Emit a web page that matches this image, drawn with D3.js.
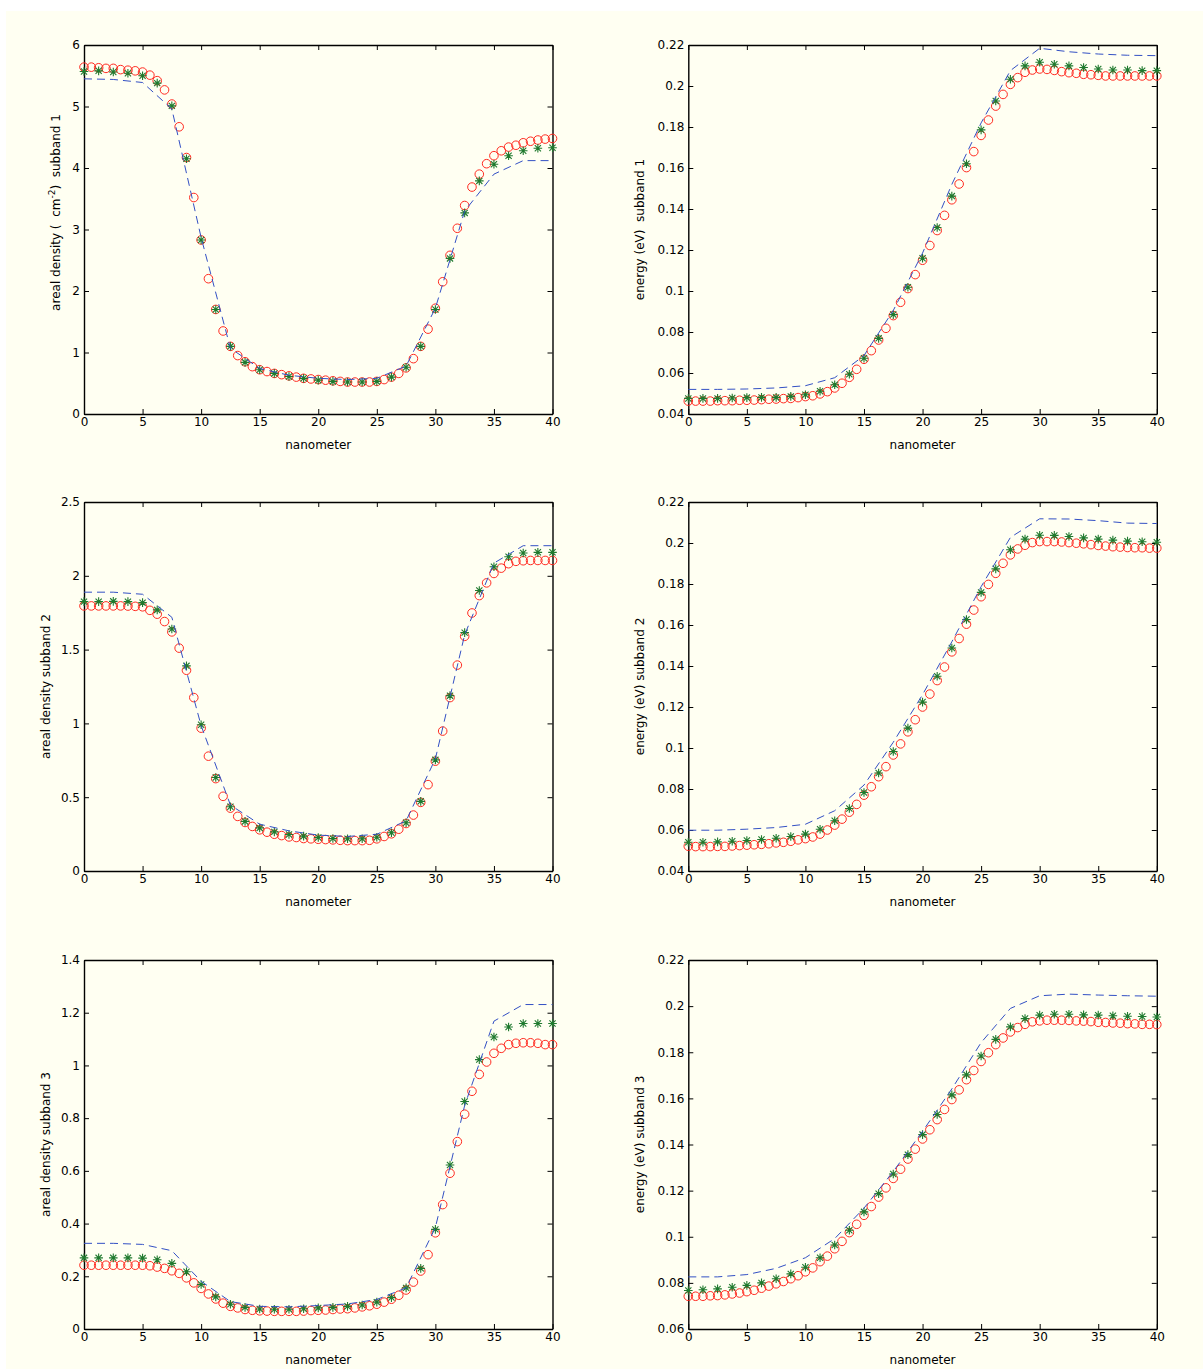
<!DOCTYPE html>
<html>
<head>
<meta charset="utf-8">
<script src="https://cdnjs.cloudflare.com/ajax/libs/d3/7.8.5/d3.min.js"></script>
<style>
  body { margin: 0; background: #fff; }
  svg text { font-family: "DejaVu Sans", sans-serif; font-size: 12px; fill: #000; }
</style>
</head>
<body>
<svg id="fig" width="1203" height="1369"></svg>
<script>
// sample positions (nanometer)
var xCirc = [0,0.625,1.25,1.875,2.5,3.125,3.75,4.375,5,5.625,6.25,6.875,7.5,8.125,8.75,9.375,
  10,10.625,11.25,11.875,12.5,13.125,13.75,14.375,15,15.625,16.25,16.875,17.5,18.125,18.75,19.375,
  20,20.625,21.25,21.875,22.5,23.125,23.75,24.375,25,25.625,26.25,26.875,27.5,28.125,28.75,29.375,
  30,30.625,31.25,31.875,32.5,33.125,33.75,34.375,35,35.625,36.25,36.875,37.5,38.125,38.75,39.375,40];
var xStar = [0,1.25,2.5,3.75,5,6.25,7.5,8.75,10,11.25,12.5,13.75,15,16.25,17.5,18.75,
  20,21.25,22.5,23.75,25,26.25,27.5,28.75,30,31.25,32.5,33.75,35,36.25,37.5,38.75,40];
var xDash = [0,2.5,5,7.5,10,12.5,15,17.5,20,22.5,25,27.5,30,32.5,35,37.5,40];

// subband 1
var dens1Circ = [5.64,5.64,5.63,5.62,5.62,5.60,5.59,5.58,5.56,5.51,5.42,5.27,5.04,4.67,4.17,3.52,
  2.83,2.20,1.70,1.35,1.10,0.95,0.85,0.77,0.72,0.69,0.66,0.64,0.62,0.60,0.58,0.57,
  0.56,0.55,0.54,0.53,0.52,0.52,0.52,0.52,0.53,0.56,0.60,0.66,0.75,0.90,1.10,1.38,
  1.72,2.15,2.58,3.02,3.39,3.69,3.90,4.07,4.20,4.28,4.34,4.37,4.41,4.435,4.455,4.47,4.48];
var dens1Star = [5.57,5.58,5.56,5.54,5.50,5.38,5.01,4.15,2.83,1.70,1.10,0.84,0.72,0.66,0.61,0.58,
  0.55,0.53,0.52,0.52,0.53,0.60,0.76,1.10,1.70,2.53,3.27,3.79,4.06,4.20,4.28,4.32,4.33];
var dens1Dash = [5.45,5.44,5.39,4.96,2.87,1.07,0.74,0.63,0.58,0.56,0.58,0.78,1.72,3.30,3.90,4.12,4.12];

var en1Circ = [0.0463,0.0463,0.0463,0.0463,0.0465,0.0465,0.0465,0.0467,0.0467,0.0468,0.0470,0.0472,0.0473,0.0475,0.0476,0.0480,
  0.0485,0.0489,0.0498,0.0509,0.0527,0.0550,0.0579,0.0618,0.0667,0.0709,0.0761,0.0818,0.0880,0.0945,0.1012,0.1080,
  0.1150,0.1222,0.1295,0.1369,0.1445,0.1522,0.1602,0.1680,0.1759,0.1834,0.1902,0.1959,0.2008,0.2041,0.2067,0.2078,
  0.2083,0.2081,0.2076,0.2070,0.2065,0.2062,0.2057,0.2055,0.2052,0.2049,0.2049,0.2049,0.2049,0.2049,0.2049,0.2049,0.2049];
var en1Star = [0.0476,0.0476,0.0476,0.0478,0.0480,0.0481,0.0481,0.0486,0.0494,0.0511,0.0543,0.0594,0.0672,0.0769,0.0885,0.1018,
  0.1160,0.1310,0.1463,0.1621,0.1786,0.1927,0.2033,0.2098,0.2116,0.2106,0.2098,0.2090,0.2083,0.2078,0.2078,0.2075,0.2075];
var en1Dash = [0.0520,0.0520,0.0522,0.0527,0.0538,0.0577,0.0685,0.0905,0.1185,0.1520,0.1820,0.2075,0.2184,0.2167,0.2156,0.2150,0.2148];

// subband 2
var dens2Circ = [1.796,1.796,1.796,1.796,1.796,1.796,1.795,1.793,1.790,1.766,1.740,1.690,1.620,1.510,1.360,1.175,
  0.968,0.778,0.626,0.506,0.426,0.370,0.329,0.302,0.279,0.263,0.249,0.240,0.231,0.227,0.220,0.218,
  0.215,0.213,0.211,0.208,0.206,0.206,0.206,0.208,0.218,0.234,0.252,0.283,0.322,0.379,0.465,0.585,
  0.744,0.948,1.175,1.395,1.590,1.748,1.866,1.952,2.016,2.052,2.082,2.098,2.102,2.104,2.104,2.104,2.104];
var dens2Star = [1.825,1.825,1.827,1.825,1.818,1.769,1.640,1.390,0.991,0.633,0.435,0.336,0.292,0.265,0.247,0.236,
  0.227,0.220,0.218,0.218,0.229,0.259,0.327,0.472,0.753,1.188,1.615,1.900,2.061,2.129,2.154,2.159,2.159];
var dens2Dash = [1.889,1.889,1.875,1.719,0.985,0.447,0.317,0.272,0.243,0.234,0.249,0.340,0.760,1.600,2.086,2.204,2.204];

var en2Circ = [0.0521,0.0519,0.0519,0.0519,0.0520,0.0520,0.0522,0.0524,0.0526,0.0528,0.0530,0.0533,0.0537,0.0540,0.0545,0.0552,
  0.0558,0.0566,0.0580,0.0600,0.0624,0.0653,0.0687,0.0725,0.0770,0.0811,0.0860,0.0909,0.0966,0.1020,0.1079,0.1138,
  0.1200,0.1263,0.1329,0.1395,0.1469,0.1534,0.1604,0.1673,0.1738,0.1798,0.1852,0.1901,0.1942,0.1971,0.1989,0.2002,
  0.2007,0.2007,0.2007,0.2005,0.2002,0.1999,0.1996,0.1992,0.1988,0.1985,0.1982,0.1980,0.1978,0.1977,0.1977,0.1975,0.1975];
var en2Star = [0.0540,0.0540,0.0542,0.0545,0.0549,0.0554,0.0560,0.0568,0.0580,0.0604,0.0645,0.0705,0.0783,0.0878,0.0983,0.1097,
  0.1224,0.1350,0.1488,0.1627,0.1759,0.1874,0.1967,0.2019,0.2038,0.2037,0.2032,0.2025,0.2019,0.2014,0.2009,0.2006,0.2004];
var en2Dash = [0.0599,0.0599,0.0604,0.0612,0.0628,0.0694,0.0819,0.1028,0.1260,0.1518,0.1787,0.2027,0.2118,0.2117,0.2109,0.2097,0.2095];

// subband 3
var dens3Circ = [0.242,0.242,0.242,0.242,0.242,0.242,0.242,0.242,0.242,0.240,0.235,0.230,0.221,0.211,0.194,0.175,
  0.154,0.133,0.114,0.098,0.086,0.080,0.074,0.071,0.069,0.068,0.067,0.067,0.067,0.067,0.068,0.070,
  0.071,0.072,0.074,0.076,0.077,0.080,0.084,0.088,0.094,0.102,0.113,0.128,0.148,0.178,0.220,0.282,
  0.365,0.472,0.591,0.711,0.815,0.902,0.966,1.013,1.046,1.065,1.079,1.084,1.086,1.086,1.084,1.079,1.079];
var dens3Star = [0.270,0.270,0.270,0.270,0.269,0.263,0.249,0.217,0.169,0.122,0.094,0.082,0.076,0.075,0.075,0.077,
  0.080,0.082,0.086,0.091,0.102,0.119,0.156,0.230,0.378,0.622,0.863,1.022,1.108,1.146,1.159,1.159,1.159];
var dens3Dash = [0.325,0.325,0.321,0.297,0.181,0.104,0.086,0.084,0.089,0.095,0.112,0.156,0.385,0.848,1.168,1.231,1.231];

var en3Circ = [0.0742,0.0742,0.0742,0.0744,0.0745,0.0748,0.0752,0.0756,0.0762,0.0768,0.0777,0.0786,0.0796,0.0806,0.0818,0.0831,
  0.0848,0.0865,0.0892,0.0916,0.0948,0.0980,0.1018,0.1054,0.1093,0.1131,0.1172,0.1212,0.1253,0.1293,0.1337,0.1380,
  0.1424,0.1464,0.1508,0.1552,0.1595,0.1637,0.1681,0.1721,0.1760,0.1798,0.1833,0.1862,0.1888,0.1907,0.1921,0.1932,
  0.1936,0.1939,0.1939,0.1939,0.1938,0.1936,0.1935,0.1933,0.1930,0.1929,0.1927,0.1926,0.1924,0.1923,0.1921,0.1921,0.1920];
var en3Star = [0.0767,0.0770,0.0774,0.0781,0.0789,0.0800,0.0818,0.0839,0.0868,0.0909,0.0964,0.1028,0.1108,0.1187,0.1272,0.1356,
  0.1443,0.1530,0.1615,0.1702,0.1784,0.1856,0.1910,0.1946,0.1961,0.1965,0.1965,0.1962,0.1961,0.1958,0.1956,0.1955,0.1953];
var en3Dash = [0.0826,0.0826,0.0836,0.0863,0.0909,0.0992,0.1124,0.1283,0.1457,0.1641,0.1842,0.1990,0.2045,0.2052,0.2048,0.2045,0.2043];

// tick values
var xTicks = [0,5,10,15,20,25,30,35,40];
var dens1Ticks = [0,1,2,3,4,5,6];
var dens2Ticks = [0,0.5,1,1.5,2,2.5];
var dens3Ticks = [0,0.2,0.4,0.6,0.8,1,1.2,1.4];
var enTicks = [0.04,0.06,0.08,0.1,0.12,0.14,0.16,0.18,0.2,0.22];
var en3Ticks = [0.06,0.08,0.1,0.12,0.14,0.16,0.18,0.2,0.22];

// labelDx: distance of y-label baseline left of the axis; labelDy: label centre offset from axis middle
var panels = [
  { left: 84,    top: 45,  circ: dens1Circ, star: dens1Star, dash: dens1Dash, ticks: dens1Ticks, labelDx: 24, labelDy: -17,
    label: [["areal density (  cm", 0], ["-2", 1], [")  subband 1", 0]] },
  { left: 688.3, top: 45,  circ: en1Circ, star: en1Star, dash: en1Dash, ticks: enTicks, labelDx: 44, labelDy: 0,
    label: [["energy (eV)  subband 1", 0]] },
  { left: 84,    top: 502, circ: dens2Circ, star: dens2Star, dash: dens2Dash, ticks: dens2Ticks, labelDx: 34, labelDy: 0,
    label: [["areal density subband 2", 0]] },
  { left: 688.3, top: 502, circ: en2Circ, star: en2Star, dash: en2Dash, ticks: enTicks, labelDx: 44, labelDy: 0,
    label: [["energy (eV) subband 2", 0]] },
  { left: 84,    top: 960, circ: dens3Circ, star: dens3Star, dash: dens3Dash, ticks: dens3Ticks, labelDx: 34, labelDy: 0,
    label: [["areal density subband 3", 0]] },
  { left: 688.3, top: 960, circ: en3Circ, star: en3Star, dash: en3Dash, ticks: en3Ticks, labelDx: 44, labelDy: 0,
    label: [["energy (eV) subband 3", 0]] }
];

var W = 468.5, H = 369, tick = 5;
var svg = d3.select("#fig");

svg.append("rect").attr("x", 6).attr("y", 11).attr("width", 1197).attr("height", 1358)
  .attr("fill", "#fffff2");

var fmt = d3.format("~g");
var starPath = (function(s) {
  var d = s * 0.72;
  return "M" + (-s) + ",0L" + s + ",0M0," + (-s) + "L0," + s +
    "M" + (-d) + "," + (-d) + "L" + d + "," + d + "M" + (-d) + "," + d + "L" + d + "," + (-d);
})(4.3);

panels.forEach(function(p) {
  var x = d3.scaleLinear().domain([0, 40]).range([0, W]);
  var y = d3.scaleLinear().domain([p.ticks[0], p.ticks[p.ticks.length - 1]]).range([H, 0]);
  var g = svg.append("g").attr("transform", "translate(" + p.left + "," + p.top + ")");

  // axes, ticks inward on all four sides
  var ax = [
    [d3.axisBottom(x).tickValues(xTicks).tickFormat(fmt), "translate(0," + H + ")"],
    [d3.axisTop(x).tickValues(xTicks).tickFormat(""), null],
    [d3.axisLeft(y).tickValues(p.ticks).tickFormat(fmt), null],
    [d3.axisRight(y).tickValues(p.ticks).tickFormat(""), "translate(" + W + ",0)"]
  ];
  ax.forEach(function(a, i) {
    var ag = g.append("g").attr("transform", a[1]).call(a[0].tickSizeInner(-tick).tickSizeOuter(0).tickPadding(i == 0 ? 3.5 : 4));
    ag.select(".domain").attr("stroke", "#000").attr("stroke-width", 1.4);
    ag.selectAll(".tick line").attr("stroke", "#000").attr("stroke-width", 1);
    ag.selectAll("text").attr("font-family", null).attr("font-size", null).attr("fill", null);
  });

  g.append("text").attr("x", W / 2).attr("y", H + 34.5).attr("text-anchor", "middle").text("nanometer");

  var lab = g.append("text").attr("text-anchor", "middle").attr("xml:space", "preserve")
    .attr("transform", "translate(" + (-p.labelDx) + "," + (H / 2 + p.labelDy) + ") rotate(-90)");
  p.label.forEach(function(part) {
    var t = lab.append("tspan").text(part[0]);
    if (part[1]) t.attr("font-size", "9px").attr("dy", "-5");
    else if (lab.selectAll("tspan").size() > 1) t.attr("dy", "5");
  });

  // circles
  g.append("g").selectAll("circle").data(p.circ).enter().append("circle")
    .attr("cx", function(d, i) { return x(xCirc[i]); })
    .attr("cy", function(d) { return y(d); })
    .attr("r", 4.3)
    .attr("fill", "none").attr("stroke", "#ff2a20").attr("stroke-width", 1);

  // asterisks
  g.append("g").selectAll("path").data(p.star).enter().append("path")
    .attr("transform", function(d, i) { return "translate(" + x(xStar[i]) + "," + y(d) + ")"; })
    .attr("d", starPath)
    .attr("fill", "none").attr("stroke", "#1f7a2e").attr("stroke-width", 1.1);

  // dashed line
  var line = d3.line().x(function(d, i) { return x(xDash[i]); }).y(function(d) { return y(d); });
  g.append("path").datum(p.dash).attr("d", line)
    .attr("fill", "none").attr("stroke", "#3350c4").attr("stroke-width", 1)
    .attr("stroke-dasharray", "8,5");
});
</script>
</body>
</html>
